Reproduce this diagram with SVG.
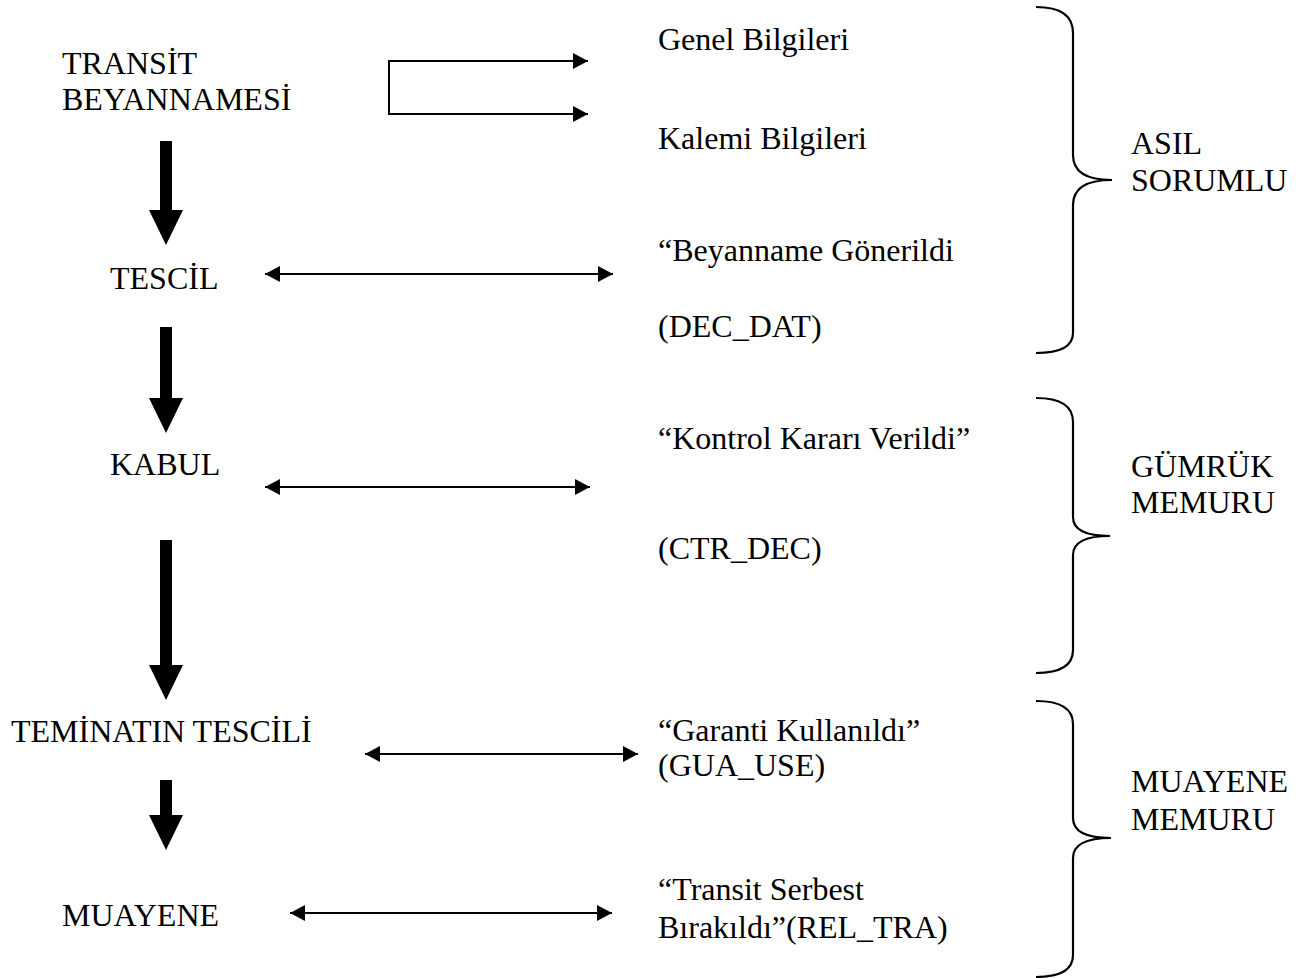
<svg xmlns="http://www.w3.org/2000/svg" width="1306" height="978" viewBox="0 0 1306 978">
<style>
text{font-family:"Liberation Serif","Times New Roman",serif;font-size:32px;fill:#000}
.ln{fill:none;stroke:#000;stroke-width:2}
.br{fill:none;stroke:#000;stroke-width:2.2}
.big{fill:#000}
</style>
<defs>
<marker id="ah" markerUnits="userSpaceOnUse" markerWidth="16" markerHeight="16" refX="15" refY="8" orient="auto-start-reverse">
<path d="M0,0 L15,8 L0,16 z" fill="#000"/>
</marker>
</defs>
<rect width="1306" height="978" fill="#fff"/>
<g id="n-transit"><text x="62" y="74">TRANSİT</text><text x="62" y="110">BEYANNAMESİ</text></g>
<g id="n-tescil"><text x="110" y="289">TESCİL</text></g>
<g id="n-kabul"><text x="110" y="475">KABUL</text></g>
<g id="n-teminat"><text x="11" y="742">TEMİNATIN TESCİLİ</text></g>
<g id="n-muayene"><text x="62" y="926">MUAYENE</text></g>
<g id="n-genel"><text x="658" y="50">Genel Bilgileri</text></g>
<g id="n-kalemi"><text x="658" y="149">Kalemi Bilgileri</text></g>
<g id="n-dec"><text x="658" y="261">“Beyanname Gönerildi</text><text x="658" y="337">(DEC_DAT)</text></g>
<g id="n-ctr"><text x="658" y="449">“Kontrol Kararı Verildi”</text><text x="658" y="559">(CTR_DEC)</text></g>
<g id="n-gua"><text x="658" y="741">“Garanti Kullanıldı”</text><text x="658" y="776">(GUA_USE)</text></g>
<g id="n-rel"><text x="658" y="900">“Transit Serbest</text><text x="658" y="938">Bırakıldı”(REL_TRA)</text></g>
<g id="n-asil"><path class="br" d="M1036,7 Q1073,7 1073,33 V155 Q1073,180 1112,180 Q1073,180 1073,205 V333 Q1073,353 1036,353"/><text x="1131" y="154">ASIL</text><text x="1131" y="191">SORUMLU</text></g>
<g id="n-gumruk"><path class="br" d="M1036,398 Q1073,398 1073,422 V517 Q1073,536 1110,536 Q1073,536 1073,555 V650 Q1073,673 1036,673"/><text x="1131" y="477">GÜMRÜK</text><text x="1131" y="513">MEMURU</text></g>
<g id="n-muayene-m"><path class="br" d="M1036,701 Q1073,701 1073,724 V818 Q1073,838 1111,838 Q1073,838 1073,858 V955 Q1073,977 1036,977"/><text x="1131" y="792">MUAYENE</text><text x="1131" y="830">MEMURU</text></g>
<g id="connectors">
<path class="ln" d="M588,61 H389 V114 H588" marker-start="url(#ah)" marker-end="url(#ah)"/>
<path class="ln" d="M265,274 H613" marker-start="url(#ah)" marker-end="url(#ah)"/>
<path class="ln" d="M265,487 H590" marker-start="url(#ah)" marker-end="url(#ah)"/>
<path class="ln" d="M365,754 H638" marker-start="url(#ah)" marker-end="url(#ah)"/>
<path class="ln" d="M290,913 H612" marker-start="url(#ah)" marker-end="url(#ah)"/>
<path class="big" d="M160,141 H172 V210 H183 L166,245 L149,210 H160 Z"/>
<path class="big" d="M160,327 H172 V398 H183 L166,433 L149,398 H160 Z"/>
<path class="big" d="M160,540 H172 V665 H183 L166,700 L149,665 H160 Z"/>
<path class="big" d="M160,780 H172 V815 H183 L166,850 L149,815 H160 Z"/>
</g>
</svg>
